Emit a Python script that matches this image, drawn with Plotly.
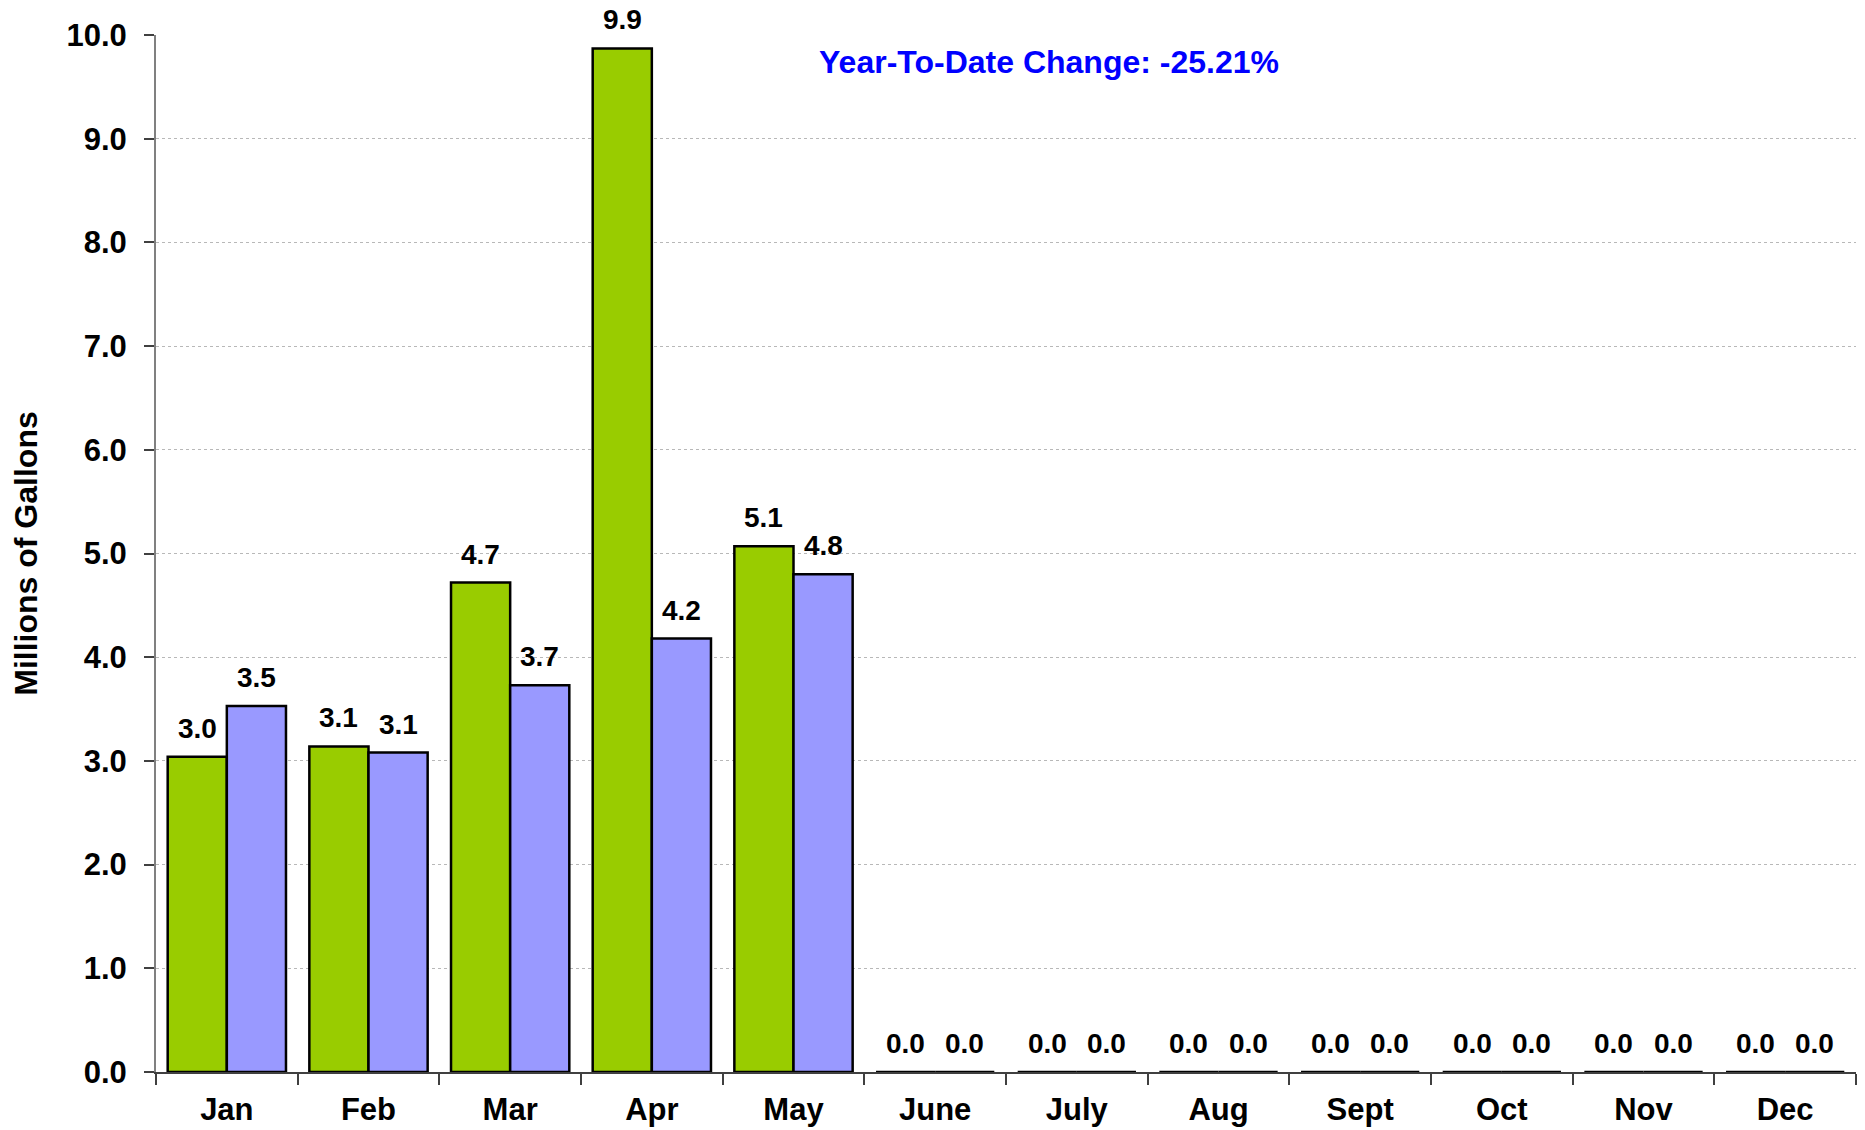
import plotly.graph_objects as go

months = ["Jan", "Feb", "Mar", "Apr", "May", "June", "July", "Aug", "Sept", "Oct", "Nov", "Dec"]
prior_year = [3.04, 3.14, 4.72, 9.87, 5.07, 0, 0, 0, 0, 0, 0, 0]
current_year = [3.53, 3.08, 3.73, 4.18, 4.80, 0, 0, 0, 0, 0, 0, 0]
ytd_text = "Year-To-Date Change: -25.21%"
y_ticks = [0, 1, 2, 3, 4, 5, 6, 7, 8, 9, 10]

FONT = "Arial, 'Liberation Sans', sans-serif"
BARGAP = 0.165
PLOT_W = 1700
bar_offset = PLOT_W / len(months) * (1 - BARGAP) / 4

fig = go.Figure()
series = [(prior_year, "#99CC00", "Prior", -bar_offset), (current_year, "#9999FF", "Current", bar_offset)]
for vals, color, name, shift in series:
    fig.add_trace(go.Bar(
        x=months, y=vals, name=name,
        marker=dict(color=color, line=dict(color="#000000", width=2.5)),
        cliponaxis=False,
    ))
    for m, v in zip(months, vals):
        fig.add_annotation(
            x=m, y=v, xref="x", yref="y", text="<b>%.1f</b>" % v,
            showarrow=False, xanchor="center", yanchor="bottom",
            xshift=shift, yshift=11,
            font=dict(family=FONT, size=28, color="#000000"),
        )

fig.add_annotation(
    text="<b>" + ytd_text + "</b>", xref="paper", yref="paper",
    x=(1049 - 156) / PLOT_W, y=(1072 - 62) / 1037, xanchor="center", yanchor="middle",
    showarrow=False, font=dict(family=FONT, size=32, color="#0000FF"),
)

fig.update_layout(
    width=1865, height=1130,
    margin=dict(l=148, r=17, t=27, b=66, autoexpand=False),
    paper_bgcolor="white", plot_bgcolor="white",
    barmode="group", bargap=BARGAP, bargroupgap=0,
    showlegend=False,
    font=dict(family=FONT, color="#000000"),
)
fig.update_xaxes(
    type="category", tickson="boundaries", ticks="outside", ticklen=11, tickwidth=2,
    tickcolor="#404040", showline=True, linecolor="#404040", linewidth=2,
    showgrid=False, automargin=False,
    tickfont=dict(family=FONT, size=31, color="#000000", weight="bold"),
    ticklabelstandoff=9,
)
fig.update_yaxes(
    range=[0, 10], tickvals=y_ticks, tickformat=".1f",
    ticks="outside", ticklen=10, tickwidth=2, tickcolor="#404040",
    showline=True, linecolor="#808080", linewidth=2,
    showgrid=True, gridcolor="#b8b8b8", gridwidth=1, griddash="dot",
    zeroline=False, automargin=False,
    tickfont=dict(family=FONT, size=31, color="#000000", weight="bold"),
    ticklabelstandoff=11,
    title=dict(text="<b>Millions of Gallons</b>", font=dict(family=FONT, size=32, color="#000000"), standoff=20),
)

fig.write_html("out.html")
